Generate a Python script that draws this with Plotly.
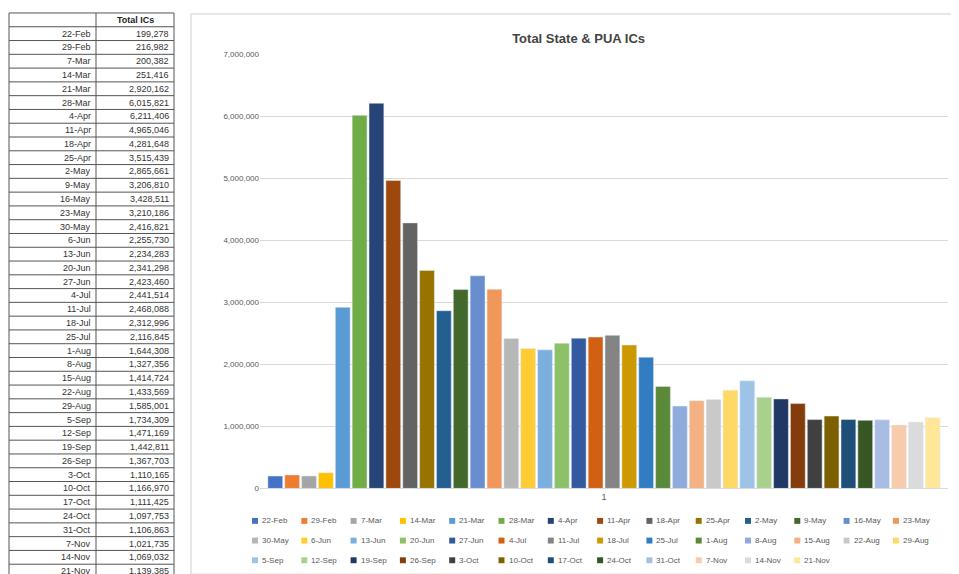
import plotly.graph_objects as go

dates = ["22-Feb","29-Feb","7-Mar","14-Mar","21-Mar","28-Mar","4-Apr","11-Apr","18-Apr","25-Apr",
         "2-May","9-May","16-May","23-May","30-May","6-Jun","13-Jun","20-Jun","27-Jun","4-Jul",
         "11-Jul","18-Jul","25-Jul","1-Aug","8-Aug","15-Aug","22-Aug","29-Aug","5-Sep","12-Sep",
         "19-Sep","26-Sep","3-Oct","10-Oct","17-Oct","24-Oct","31-Oct","7-Nov","14-Nov","21-Nov"]
values = [199278,216982,200382,251416,2920162,6015821,6211406,4965046,4281648,3515439,
          2865661,3206810,3428511,3210186,2416821,2255730,2234283,2341298,2423460,2441514,
          2468088,2312996,2116845,1644308,1327356,1414724,1433569,1585001,1734309,1471169,
          1442811,1367703,1110165,1166970,1111425,1097753,1106863,1021735,1069032,1139385]
colors = ["#4472C4","#ED7D31","#A5A5A5","#FFC000","#5B9BD5","#70AD47",
          "#264478","#9E480E","#636363","#997300","#255E91","#43682B",
          "#698ED0","#F1975A","#B7B7B7","#FFCD33","#7CAFDD","#8CC168",
          "#335AA1","#D26012","#848484","#CC9A00","#327DC2","#5A8A39",
          "#8FAADC","#F4B183","#C9C9C9","#FFD966","#9DC3E6","#A9D18E",
          "#1F3864","#843C0C","#404040","#7F6000","#1F4E79","#375623",
          "#A9BCE4","#F8CBAD","#DBDBDB","#FFE699"]

W, H = 959, 574
px = lambda x: x / W
py = lambda y: 1 - y / H

fig = go.Figure()
for d, v, c in zip(dates, values, colors):
    fig.add_trace(go.Bar(x=["1"], y=[v], name=d, marker_color=c, showlegend=False))

shapes, ann = [], []
# table
rowh = 14.0
nrows = len(dates) + 1
for i in range(nrows + 1):
    shapes.append(dict(type="line", xref="paper", yref="paper", x0=px(1), x1=px(166),
                       y0=py(1 + i * rowh), y1=py(1 + i * rowh), line=dict(color="#555", width=1)))
for xx in (1, 88, 166):
    shapes.append(dict(type="line", xref="paper", yref="paper", x0=px(xx), x1=px(xx),
                       y0=py(1), y1=py(1 + nrows * rowh), line=dict(color="#555", width=1)))
ann.append(dict(text="<b>Total ICs</b>", x=px(127), y=py(1 + rowh / 2), xref="paper", yref="paper",
                showarrow=False, font=dict(size=9, color="#222"), xanchor="center", yanchor="middle"))
for i, (d, v) in enumerate(zip(dates, values)):
    yc = py(1 + (i + 1.5) * rowh)
    ann.append(dict(text=d, x=px(85), y=yc, xref="paper", yref="paper", showarrow=False,
                    font=dict(size=9, color="#333"), xanchor="right", yanchor="middle"))
    ann.append(dict(text=f"{v:,}", x=px(163), y=yc, xref="paper", yref="paper", showarrow=False,
                    font=dict(size=9, color="#333"), xanchor="right", yanchor="middle"))
# legend
for i, (d, c) in enumerate(zip(dates, colors)):
    r, k = divmod(i, 14)
    x0 = 244 + k * 49.3
    y0 = 517 + r * 20
    shapes.append(dict(type="rect", xref="paper", yref="paper", x0=px(x0), x1=px(x0 + 6),
                       y0=py(y0 - 3), y1=py(y0 + 3), fillcolor=c, line=dict(width=0)))
    ann.append(dict(text=d, x=px(x0 + 8), y=py(y0), xref="paper", yref="paper", showarrow=False,
                    font=dict(size=8, color="#595959"), xanchor="left", yanchor="middle"))
shapes.append(dict(type="rect", xref="paper", yref="paper", x0=px(183), x1=px(952), y0=py(571), y1=py(2),
                   line=dict(color="#d0d0d0", width=1)))

fig.update_layout(
    width=W, height=H, margin=dict(l=0, r=0, t=0, b=0),
    paper_bgcolor="white", plot_bgcolor="white",
    barmode="group", bargap=0.02, bargroupgap=0.12, showlegend=False,
    font=dict(family="Liberation Sans", color="#595959"),
    title=dict(text="<b>Total State & PUA ICs</b>", x=0.595, xanchor="center", y=0.955,
               font=dict(size=13, color="#444")),
    xaxis=dict(domain=[px(252), px(940)], showgrid=False, showline=True, linecolor="#d9d9d9",
               tickfont=dict(size=9)),
    yaxis=dict(domain=[py(484), py(43)], range=[0, 7000000], dtick=1000000, tickformat=",",
               gridcolor="#d9d9d9", tickfont=dict(size=8), zeroline=False),
    shapes=shapes, annotations=ann,
)
fig.write_html("out.html")
